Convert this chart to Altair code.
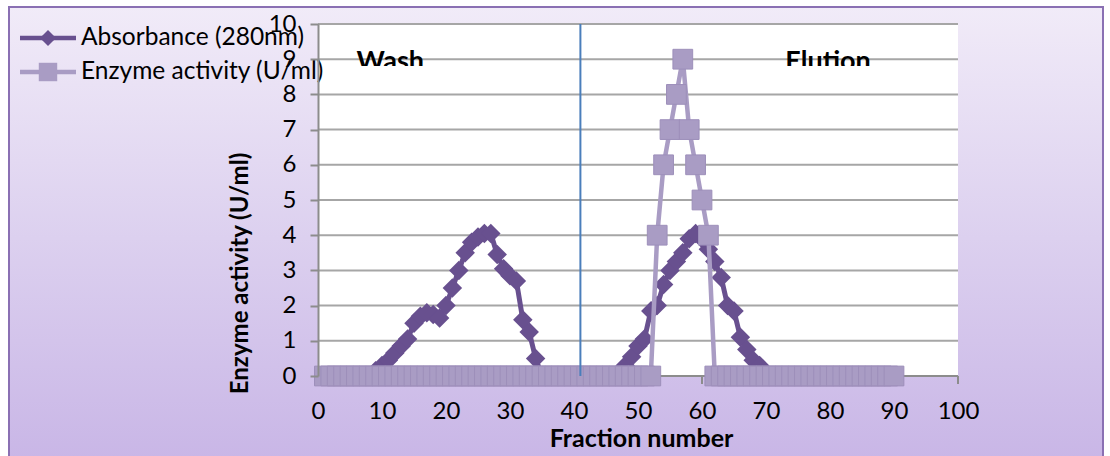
import altair as alt
import pandas as pd

# ---- data -------------------------------------------------------------
fraction = list(range(1, 91))

absorbance = [
    0, 0, 0, 0, 0, 0, 0, 0,                                   # 1-8
    0.15, 0.3, 0.45, 0.65, 0.85, 1.05, 1.5, 1.7, 1.8, 1.75,   # 9-18
    1.65, 2.0, 2.5, 3.0, 3.5, 3.8, 3.95, 4.05, 4.05, 3.45,    # 19-28
    3.05, 2.85, 2.7, 1.6, 1.25, 0.5,                          # 29-34
    0, 0, 0, 0, 0, 0, 0, 0, 0, 0, 0, 0, 0,                    # 35-47
    0.3, 0.55, 0.85, 1.05, 1.85, 2.0, 2.6, 3.0, 3.25, 3.5,    # 48-57
    3.9, 4.05, 3.9, 3.6, 3.25, 2.8, 2.0, 1.85, 1.1, 0.75,     # 58-67
    0.45, 0.3,                                                # 68-69
    0, 0, 0, 0, 0, 0, 0, 0, 0, 0,                             # 70-79
    0, 0, 0, 0, 0, 0, 0, 0, 0, 0, 0,                          # 80-90
]

enzyme_activity = [
    0, 0, 0, 0, 0, 0, 0, 0, 0, 0,                             # 1-10
    0, 0, 0, 0, 0, 0, 0, 0, 0, 0,                             # 11-20
    0, 0, 0, 0, 0, 0, 0, 0, 0, 0,                             # 21-30
    0, 0, 0, 0, 0, 0, 0, 0, 0, 0,                             # 31-40
    0, 0, 0, 0, 0, 0, 0, 0, 0, 0, 0, 0,                       # 41-52
    4, 6, 7, 8, 9, 7, 6, 5, 4,                                # 53-61
    0, 0, 0, 0, 0, 0, 0, 0, 0, 0,                             # 62-71
    0, 0, 0, 0, 0, 0, 0, 0, 0, 0,                             # 72-81
    0, 0, 0, 0, 0, 0, 0, 0, 0,                                # 82-90
]

series_names = ["Absorbance (280nm)", "Enzyme activity (U/ml)"]
x_ticks = [0, 10, 20, 30, 40, 50, 60, 70, 80, 90, 100]
y_ticks = [0, 1, 2, 3, 4, 5, 6, 7, 8, 9, 10]

separator_fraction = [41]
phase_labels = ["Wash", "Elution"]
phase_x = [11.3, 79.7]

# ---- styling ------------------------------------------------------------
W, H = 640, 352
FONT = "Lato"
ABS_COLOR = "#68508F"
ENZ_COLOR = "#A99CC4"
GRID = "#A6A6A6"

xs = alt.Scale(domain=[0, 100], nice=False, zero=False)
ys = alt.Scale(domain=[0, 10], nice=False, zero=False)

x_axis = alt.Axis(values=x_ticks, grid=False, domain=False, ticks=False,
                  labelFont=FONT, labelFontSize=24, labelColor="black",
                  labelPadding=35, labelBaseline="middle", labelFlush=False,
                  title="Fraction number", titleFont=FONT, titleFontSize=25,
                  titleFontWeight="bold", titleColor="black",
                  titleX=323, titleY=62, titleBaseline="middle",
                  zindex=1)
y_axis = alt.Axis(values=y_ticks, grid=False, domain=True, domainColor="#8C8C8C",
                  domainWidth=2, ticks=True, tickColor="#8C8C8C", tickWidth=2,
                  tickSize=8, labelFont=FONT, labelFontSize=24, labelColor="black",
                  labelPadding=14, labelFlush=False,
                  title="Enzyme activity (U/ml)", titleFont=FONT, titleFontSize=24,
                  titleFontWeight="bold", titleColor="black",
                  titleX=-78, titleY=249, titleBaseline="middle", titleAngle=270,
                  zindex=1)

one = pd.DataFrame({"k": [0]})

frame_fill = alt.Gradient(
    gradient="linear", x1=0, x2=0, y1=0, y2=1,
    stops=[alt.GradientStop(color="#F1EBF8", offset=0),
           alt.GradientStop(color="#DCD0EF", offset=0.5),
           alt.GradientStop(color="#C8B5E6", offset=1)],
)

# chart frame and plot area
frame = alt.Chart(one).mark_rect(fill=frame_fill, stroke="#8A70B3", strokeWidth=2).encode(
    x=alt.value(-309), x2=alt.value(785), y=alt.value(-17), y2=alt.value(445))
plot_bg = alt.Chart(one).mark_rect(fill="white").encode(
    x=alt.value(0), x2=alt.value(W), y=alt.value(0), y2=alt.value(H))

grid = alt.Chart(pd.DataFrame({"v": y_ticks[1:]})).mark_rule(
    color=GRID, strokeWidth=2).encode(
    y=alt.Y("v:Q", scale=ys, axis=y_axis), x=alt.value(0), x2=alt.value(W))

x_line = alt.Chart(one).mark_rule(color="#8C8C8C", strokeWidth=2).encode(
    x=alt.value(0), x2=alt.value(W), y=alt.value(H))
x_tick_marks = alt.Chart(pd.DataFrame({"t": x_ticks})).mark_rule(
    color="#8C8C8C", strokeWidth=2).encode(
    x=alt.X("t:Q", scale=xs, axis=x_axis), y=alt.value(H), y2=alt.value(H + 8))

df = pd.DataFrame({"fraction": fraction, "absorbance": absorbance,
                   "enzyme": enzyme_activity})

abs_line = alt.Chart(df).mark_line(color=ABS_COLOR, strokeWidth=5).encode(
    x=alt.X("fraction:Q", scale=xs, axis=x_axis),
    y=alt.Y("absorbance:Q", scale=ys, axis=y_axis))
abs_pts = alt.Chart(df).mark_point(shape="diamond", filled=True, color=ABS_COLOR,
                                   size=380, opacity=1).encode(
    x=alt.X("fraction:Q", scale=xs, axis=x_axis),
    y=alt.Y("absorbance:Q", scale=ys, axis=y_axis))
enz_line = alt.Chart(df).mark_line(color=ENZ_COLOR, strokeWidth=4.5).encode(
    x=alt.X("fraction:Q", scale=xs, axis=x_axis),
    y=alt.Y("enzyme:Q", scale=ys, axis=y_axis))
enz_pts = alt.Chart(df).mark_point(shape="square", filled=True, fill=ENZ_COLOR,
                                   stroke="#9D8FBA", strokeWidth=1, size=390,
                                   opacity=1).encode(
    x=alt.X("fraction:Q", scale=xs, axis=x_axis),
    y=alt.Y("enzyme:Q", scale=ys, axis=y_axis))

separator = alt.Chart(pd.DataFrame({"s": separator_fraction})).mark_rule(
    color="#4A7EBB", strokeWidth=2).encode(
    x=alt.X("s:Q", scale=xs, axis=x_axis), y=alt.value(0), y2=alt.value(H))

phase_df = pd.DataFrame({"label": phase_labels, "x": phase_x})
phase_text = alt.Chart(phase_df).mark_text(
    font=FONT, fontSize=27, fontWeight="bold", color="black",
    align="center", baseline="alphabetic").encode(
    x=alt.X("x:Q", scale=xs, axis=x_axis), y=alt.value(46), text="label:N")
# the label boxes cut off the lower edge of the phase labels
phase_mask = alt.Chart(phase_df).transform_calculate(
    x0="datum.x - 8", x1="datum.x + 8").mark_rect(fill="white").encode(
    x=alt.X("x0:Q", scale=xs, axis=x_axis), x2="x1:Q",
    y=alt.value(42), y2=alt.value(56))

# legend, drawn in the top-left corner of the frame
legend_layers = []
for name, color, shape, size, ly in [
    (series_names[0], ABS_COLOR, "diamond", 260, 14),
    (series_names[1], ENZ_COLOR, "square", 340, 48),
]:
    legend_layers.append(alt.Chart(one).mark_rule(color=color, strokeWidth=4.5).encode(
        x=alt.value(-298), x2=alt.value(-242), y=alt.value(ly)))
    legend_layers.append(alt.Chart(one).mark_point(
        shape=shape, filled=True, color=color, size=size, opacity=1).encode(
        x=alt.value(-270), y=alt.value(ly)))
    legend_layers.append(alt.Chart(one).mark_text(
        font=FONT, fontSize=24.5, color="black", align="left", baseline="middle",
        text=name).encode(x=alt.value(-237), y=alt.value(ly)))

chart = alt.layer(
    frame, plot_bg, grid, x_line, x_tick_marks,
    abs_line, abs_pts, enz_line, enz_pts,
    separator, phase_text, phase_mask, *legend_layers,
).properties(
    width=W, height=H,
    autosize=alt.AutoSizeParams(type="none"),
    padding={"left": 318, "top": 24, "right": 152, "bottom": 80},
).configure_view(stroke=None).configure(background="white")

chart.save("out.html", embed_options={"renderer": "svg", "actions": False})
